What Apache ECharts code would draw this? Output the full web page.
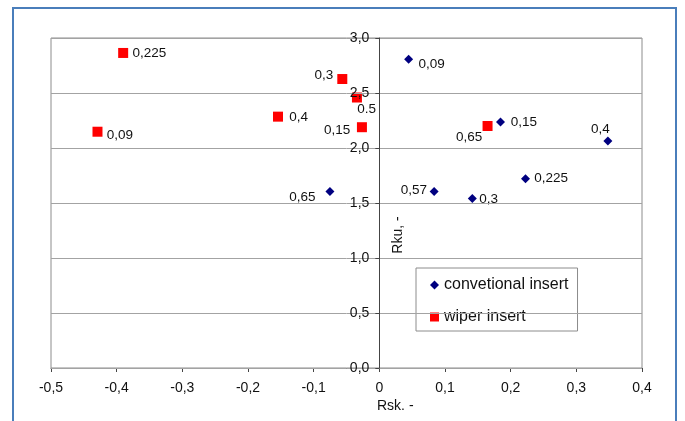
<!DOCTYPE html>
<html>
<head>
<meta charset="utf-8">
<script src="https://cdn.jsdelivr.net/npm/echarts@6/dist/echarts.min.js"></script>
<style>
  html, body { margin: 0; padding: 0; background: #fff; }
  #chart { width: 685px; height: 421px; }
</style>
</head>
<body>
<div id="chart"></div>
<script>
// Skewness (Rsk) vs kurtosis (Rku) of the turned surface, per feed value
const convLabels = ['0,09', '0,15', '0,4', '0,225', '0,57', '0,3', '0,65'];
const convRsk    = [0.0446, 0.1845, 0.348, 0.2226, 0.0834, 0.1416, -0.0752];
const convRku    = [2.807, 2.236, 2.064, 1.721, 1.605, 1.542, 1.605];

const wiperLabels = ['0,09', '0,225', '0,3', '0,4', '0.5', '0,15', '0,65'];
const wiperRsk    = [-0.4292, -0.3901, -0.0564, -0.1543, -0.0341, -0.0265, 0.1648];
const wiperRku    = [2.148, 2.864, 2.627, 2.285, 2.459, 2.189, 2.2];

const xTicks = { min: -0.5, max: 0.4, step: 0.1 };
const yTicks = { min: 0, max: 3, step: 0.5 };

// label offsets (text centre relative to the marker centre)
const convLabelOffset  = [[23, 5], [23.5, 0], [-7.5, -12], [25.6, 0], [-20.3, -1], [16.4, 1.3], [-27.5, 5.5]];
const wiperLabelOffset = [[22.5, 3.3], [26.3, 0], [-18.3, -4], [20.6, 0.7], [9.7, 12.2], [-24.7, 3], [-18.5, 11]];

const FONT = "'Liberation Sans', Arial, sans-serif";

const GRID = { left: 51, top: 38, width: 591, height: 330 };
// the Rku axis crosses the Rsk axis at zero
const yAxisShift = GRID.width * (0 - xTicks.min) / (xTicks.max - xTicks.min);

function buildPoints(xs, ys, labels, offsets) {
  return xs.map((x, i) => ({
    value: [x, ys[i]],
    name: labels[i],
    label: { offset: offsets[i] }
  }));
}

const comma = v => String(v.toFixed(1)).replace('.', ',');

const chart = echarts.init(document.getElementById('chart'), null, { renderer: 'canvas' });

chart.setOption({
  animation: false,
  backgroundColor: '#ffffff',
  textStyle: { fontFamily: FONT },
  grid: Object.assign({
    show: true, borderColor: '#8c8c8c', borderWidth: 1, backgroundColor: 'transparent'
  }, GRID),
  xAxis: {
    type: 'value',
    min: xTicks.min, max: xTicks.max, interval: xTicks.step,
    axisLine: { show: true, onZero: false, lineStyle: { color: '#444', width: 1 } },
    axisTick: { show: true, length: 4, lineStyle: { color: '#444' } },
    axisLabel: {
      margin: 13, color: '#111', fontSize: 14, fontFamily: FONT,
      formatter: v => (Math.abs(v) < 1e-9 ? '0' : comma(v))
    },
    splitLine: { show: false }
  },
  yAxis: {
    type: 'value',
    z: 5,
    position: 'left',
    offset: -yAxisShift,
    min: yTicks.min, max: yTicks.max, interval: yTicks.step,
    axisLine: { show: true, onZero: false, lineStyle: { color: '#444', width: 1 } },
    axisTick: { show: true, length: 4, lineStyle: { color: '#444' } },
    axisLabel: {
      margin: 10, color: '#111', fontSize: 14, fontFamily: FONT,
      formatter: v => comma(v)
    },
    splitLine: { show: true, lineStyle: { color: '#a3a3a3', width: 1 } }
  },
  legend: {
    orient: 'vertical',
    left: 416, top: 268,
    padding: [9, 9, 6, 14],
    itemGap: 16,
    itemWidth: 9, itemHeight: 9,
    backgroundColor: '#fff',
    borderColor: '#8c8c8c', borderWidth: 1, borderRadius: 0,
    textStyle: { fontSize: 16, color: '#111', fontFamily: FONT },
    data: [
      { name: 'convetional insert', icon: 'diamond' },
      { name: 'wiper insert', icon: 'rect' }
    ]
  },
  series: [
    {
      name: 'convetional insert',
      type: 'scatter',
      symbol: 'diamond',
      symbolSize: [9, 9],
      itemStyle: { color: '#000080', opacity: 1 },
      label: {
        show: true, position: 'inside', align: 'center', verticalAlign: 'middle',
        formatter: p => p.name, color: '#111', fontSize: 13.5, fontFamily: FONT
      },
      data: buildPoints(convRsk, convRku, convLabels, convLabelOffset)
    },
    {
      name: 'wiper insert',
      type: 'scatter',
      symbol: 'rect',
      symbolSize: [10, 10],
      itemStyle: { color: '#ff0000', opacity: 1 },
      label: {
        show: true, position: 'inside', align: 'center', verticalAlign: 'middle',
        formatter: p => p.name, color: '#111', fontSize: 13.5, fontFamily: FONT
      },
      data: buildPoints(wiperRsk, wiperRku, wiperLabels, wiperLabelOffset)
    }
  ],
  graphic: [
    {
      type: 'rect', silent: true, z: 100,
      shape: { x: 13, y: 8, width: 663, height: 440 },
      style: { fill: 'none', stroke: '#4a7ebb', lineWidth: 2 }
    },
    {
      type: 'text', z: 100,
      x: 398, y: 235, rotation: Math.PI / 2,
      style: { text: 'Rku, -', fill: '#111', font: "14px " + FONT, align: 'center', verticalAlign: 'middle' }
    },
    {
      type: 'text', z: 100,
      x: 377, y: 406,
      style: { text: 'Rsk. -', fill: '#111', font: "14px " + FONT, align: 'left', verticalAlign: 'middle' }
    }
  ]
});
</script>
</body>
</html>
